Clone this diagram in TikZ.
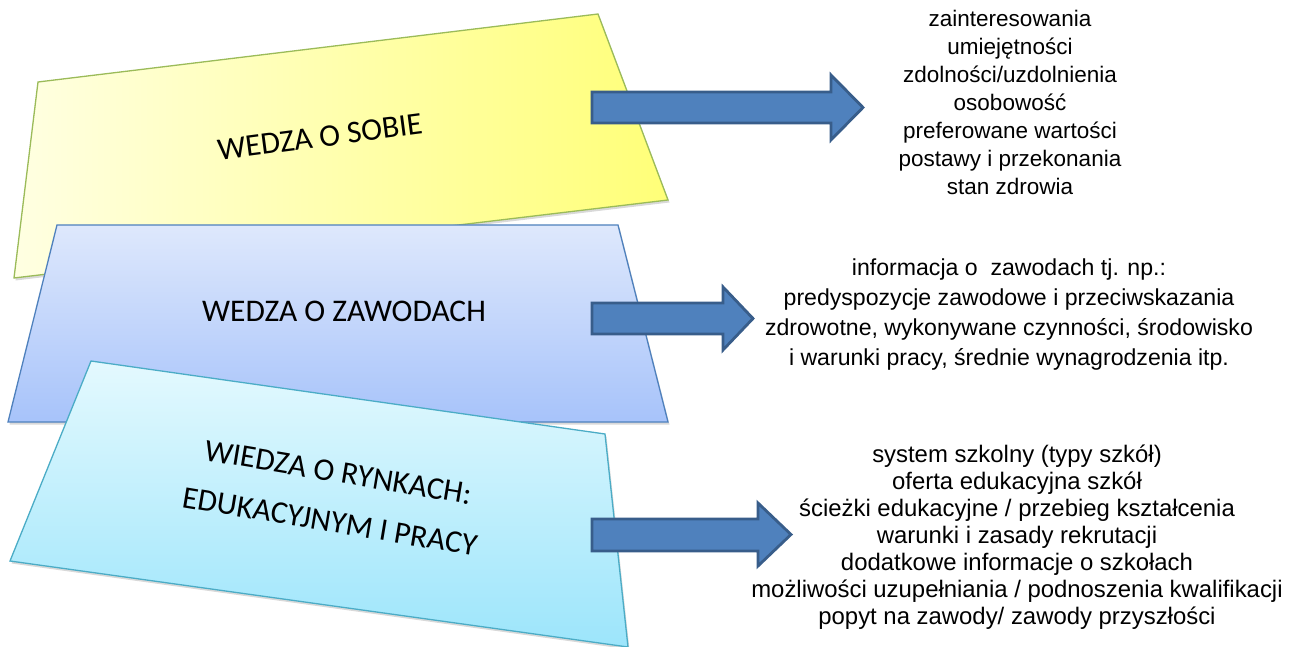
\documentclass[tikz,border=0pt]{standalone}
\usepackage{fontspec}
\setmainfont{Liberation Sans}
\newfontfamily\calib{Carlito}
\usepackage{tikz}
\usetikzlibrary{calc}
\usetikzlibrary{shadows}
\definecolor{ylwA}{HTML}{FFFFE2}
\definecolor{ylwB}{HTML}{FFFF78}
\definecolor{ylwLine}{HTML}{9BBB59}
\definecolor{bluA}{HTML}{DEE8FC}
\definecolor{bluB}{HTML}{A7C3FA}
\definecolor{bluLine}{HTML}{4F81BD}
\definecolor{cynA}{HTML}{E4F9FE}
\definecolor{cynB}{HTML}{9CE5FB}
\definecolor{cynLine}{HTML}{4BACC6}
\definecolor{arrFill}{HTML}{4F81BD}
\definecolor{arrLine}{HTML}{385D8A}
\newcommand{\bigarrow}[7]{ \draw[arrow] ( #1 , #2 ) -- ( #4 , #2 ) -- ( #4 , #5 ) -- ( #7 , {(#5+#6)/2} ) -- ( #4 , #6 ) -- ( #4 , #3 ) -- ( #1 , #3 ) -- cycle;}
\tikzset{
  card/.style={line width=1.3pt, drop shadow={opacity=0.3, shadow xshift=1.5pt, shadow yshift=-2.5pt}},
  arrow/.style={fill=arrFill, draw=arrLine, line width=2.8pt, line join=miter},
  cardtext/.style={font=\calib\fontsize{31.5}{38}\selectfont, align=center},
  list/.style={font=\fontsize{22.5}{28}\selectfont, align=center}
}
\begin{document}
\begin{tikzpicture}[x=1pt,y=-1pt]
        \useasboundingbox (0,0) rectangle (1296,647);
        % cards
        \path[card, draw=ylwLine, left color=ylwA, right color=ylwB] (38,82) -- (598,14) -- (668,200) -- (14,278) -- cycle;
        \path[card, draw=bluLine, top color=bluA, bottom color=bluB] (57,225) -- (618,225) -- (668,422) -- (8,422) -- cycle;
        \path[card, draw=cynLine, top color=cynA, bottom color=cynB] (91,361) -- (605,434) -- (628,647) -- (10,561) -- cycle;

        \node[cardtext, rotate=7.5] (sobie) at (320,137) {WEDZA O SOBIE};
        \node[cardtext] (zawody) at (344,311) {WEDZA O ZAWODACH};
        \node[cardtext, rotate=-9.5, font=\calib\fontsize{31.5}{50}\selectfont] (rynki) at (334,497) {WIEDZA O RYNKACH:\\EDUKACYJNYM I PRACY};

        % arrows
        \bigarrow{592}{92}{123}{831}{75}{140}{863}
        \bigarrow{592}{303}{334}{723}{287}{350}{753}
        \bigarrow{592}{519}{551}{758}{503}{566}{791}

        % lists
        \node[list] (lista) at (1010,102) {zainteresowania\\umiejętności\\zdolności/uzdolnienia\\osobowość\\preferowane wartości\\postawy i przekonania\\stan zdrowia};
        \node[list, font=\fontsize{23.1}{30}\selectfont] (listb) at (1009,315) {informacja o\ \ zawodach tj. np.:\\predyspozycje zawodowe i przeciwskazania\\zdrowotne, wykonywane czynności, środowisko\\i warunki pracy, średnie wynagrodzenia itp.};
        \node[list, font=\fontsize{23.9}{27}\selectfont] (listc) at (1017,537) {system szkolny (typy szkół)\\oferta edukacyjna szkół\\ścieżki edukacyjne / przebieg kształcenia\\warunki i zasady rekrutacji\\dodatkowe informacje o szkołach\\możliwości uzupełniania / podnoszenia kwalifikacji\\popyt na zawody/ zawody przyszłości};
    \end{tikzpicture}
\end{document}
